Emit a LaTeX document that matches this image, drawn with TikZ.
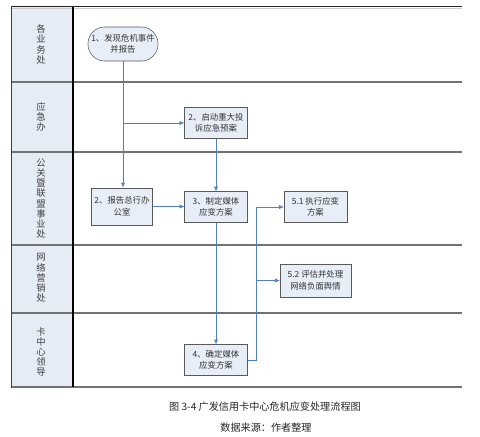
\documentclass[tikz,border=0pt]{standalone}
\usepackage{fontspec}
\setmainfont{Noto Sans CJK SC}
\usetikzlibrary{arrows.meta}
\definecolor{lanefill}{HTML}{E6ECF6}
\definecolor{boxfill}{HTML}{E8EEF7}
\definecolor{flowblue}{HTML}{4F81BD}

\begin{document}
\begin{tikzpicture}[x=0.75pt,y=-0.75pt,
  box/.style={draw=black!65,fill=boxfill,align=center,inner sep=1pt,
    minimum width=47pt,minimum height=23pt,
    font=\fontsize{6.3}{8.6}\selectfont,text=black!80},
  lanetext/.style={align=center,text=black!75,
    font=\fontsize{7}{7.65}\selectfont},
  flow/.style={flowblue,thin,-{Latex[length=3.5pt,width=3pt]}},
  flowline/.style={flowblue,thin}]
  \useasboundingbox (0,0) rectangle (480,437);
  % lane label column
  \fill[lanefill] (12,7) rectangle (73,387);
  % lane separators
  \foreach \y in {82,152,245,313,387}
    \draw[black!55,line width=0.9pt] (12,\y) -- (462,\y);
  \draw[black!85,line width=1.4pt] (11,6.5) -- (462,6.5);
  \draw[black!20,line width=0.8pt] (12,8.5) -- (462,8.5);
  \draw[black!75,line width=1.4pt] (11.5,6) -- (11.5,387.5);
  \draw[black,line width=0.8pt] (73,7) -- (73,387);
  % lane names
  \node[lanetext] (l1) at (41,44.5) {各\\业\\务\\处};
  \node[lanetext] (l2) at (41,117) {应\\急\\办};
  \node[lanetext] (l3) at (41,198.5) {公\\关\\暨\\联\\盟\\事\\业\\处};
  \node[lanetext] (l4) at (41,278) {网\\络\\营\\销\\处};
  \node[lanetext] (l5) at (41,352) {卡\\中\\心\\领\\导};
  % steps
  \node[box,rounded corners=12.5pt,minimum width=52.5pt,minimum height=25.5pt]
    (n1) at (123,44) {1、发现危机事件\\并报告};
  \node[box] (n2) at (216,123) {2、启动重大投\\诉应急预案};
  \node[box,minimum width=46pt,minimum height=28pt] (n3) at (122,206.5) {2、报告总行办\\公室};
  \node[box] (n4) at (216,207) {3、制定媒体\\应变方案};
  \node[box] (n51) at (315.5,207) {5.1 执行应变\\方案};
  \node[box,minimum width=53pt,minimum height=25pt] (n52) at (315.5,280.5) {5.2 评估并处理\\网络负面舆情};
  \node[box] (n7) at (216,360) {4、确定媒体\\应变方案};
  % connectors
  \draw[flow] (n1.south) -- (n1.south |- n3.north);
  \coordinate (b1) at (n1.south |- n2.west);
  \draw[flow] (b1) -- (n2.west);
  \draw[flow] (n2) -- (n4);
  \draw[flow] (n3.east) -- (n3.east -| n4.west);
  \draw[flow] (n4) -- (n7);
  \coordinate (j) at (256,360);
  \draw[flow] (n7.east) -- (j) |- (n51.west);
  \coordinate (b2) at (j |- n52.west);
  \draw[flow] (b2) -- (n52.west);
  % caption
  \node[font=\fontsize{7.6}{9}\selectfont,text=black!85] (cap) at (265,407)
    {图 3-4 广发信用卡中心危机应变处理流程图};
  \node[font=\fontsize{7.6}{9}\selectfont,text=black!85] (src) at (266,428)
    {数据来源：作者整理};
\end{tikzpicture}
\end{document}
